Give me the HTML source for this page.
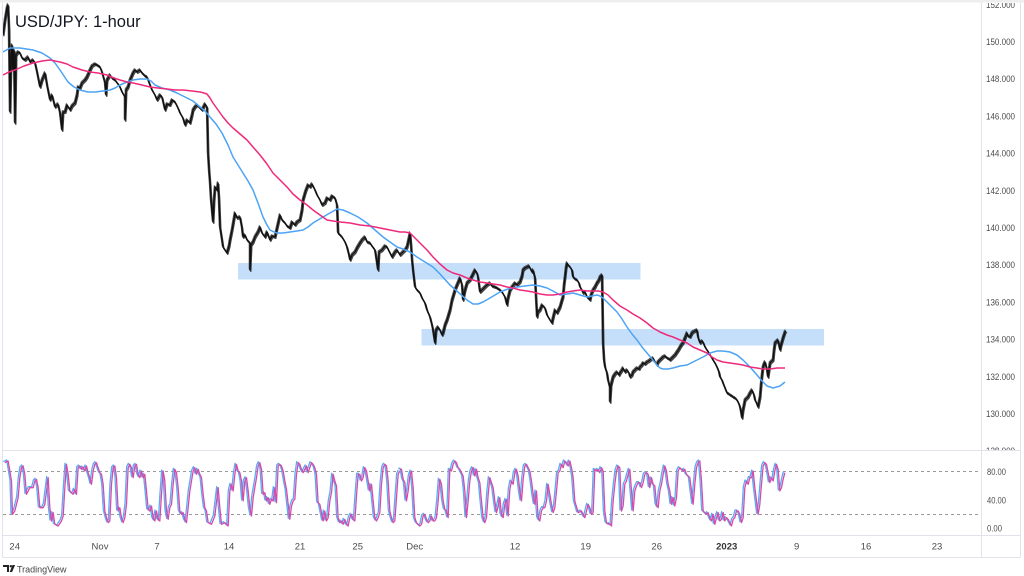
<!DOCTYPE html>
<html><head><meta charset="utf-8"><style>
html,body{margin:0;padding:0;background:#fff;}
svg{display:block;}
text{font-family:"Liberation Sans",sans-serif;}
</style></head><body>
<svg width="1024" height="576" viewBox="0 0 1024 576" xmlns="http://www.w3.org/2000/svg" xmlns:xlink="http://www.w3.org/1999/xlink">
<defs>
<clipPath id="pc"><rect x="3" y="3" width="978" height="447"/></clipPath>
<clipPath id="ac"><rect x="982" y="3" width="38" height="447"/></clipPath>
<clipPath id="oc"><rect x="3" y="451" width="978" height="84"/></clipPath>
</defs>
<rect x="0" y="0" width="1024" height="576" fill="#fff"/>
<rect x="0" y="0" width="1024" height="2.5" fill="#eeeeee"/>
<!-- frame -->
<g stroke="#e0e3eb" stroke-width="1" fill="none">
<line x1="2.5" y1="2.5" x2="2.5" y2="557.5"/>
<line x1="1020.5" y1="2.5" x2="1020.5" y2="557.5"/>
<line x1="981.5" y1="2.5" x2="981.5" y2="557.5"/>
<line x1="2.5" y1="450.5" x2="1020.5" y2="450.5"/>
<line x1="2.5" y1="535.5" x2="1020.5" y2="535.5"/>
<line x1="2.5" y1="557.5" x2="1020.5" y2="557.5"/>
</g>
<g clip-path="url(#pc)">
<!-- zones -->
<rect x="238" y="263" width="402.5" height="16.5" fill="#c5dffa"/>
<rect x="421.5" y="329" width="402.5" height="16.5" fill="#c5dffa"/>
<!-- price -->
<polyline id="pr" fill="none" stroke="#111" stroke-width="1.4" stroke-linejoin="round" points="3,35 5,20 7,8 8,5 9,30 10,112 11,60 12,45 13,70 14,50 15,123 16,55 18,52 20,53 22,58 25,60 28,57 30,62 33,60 35,63 37,72 40,87 42,80 45,73 47,85 50,100 52,95 55,107 58,104 60,113 62,130 63,112 65,112 67,105 70,110 72,106 75,103 77,95 78,87 80,88 82,83 85,80 87,77 90,70 92,66 95,64 97,65 100,67 102,72 105,83 106,95 107,80 110,75 112,78 115,80 118,84 120,87 122,92 125,97 125,120 126,90 128,87 130,80 133,73 135,70 137,72 140,70 142,73 145,76 147,77 150,85 152,90 155,95 157,100 160,95 162,97 165,110 167,104 170,105 172,100 175,102 178,108 180,113 183,118 185,125 187,120 190,123 192,115 193,110 195,107 197,105 200,108 202,110 205,104 207,107 208,153 209,170 210,183 211,200 213,222 214,200 215,187 217,190 218,183 219,200 220,227 222,240 223,247 225,250 227,253 229,246 230,240 232,230 235,213 237,218 240,217 242,228 243,237 245,235 247,240 250,243 250,270 251,245 253,242 255,237 258,232 260,227 262,233 265,237 267,232 270,240 272,236 275,237 277,228 280,215 282,220 285,223 287,226 290,228 292,222 295,225 297,222 300,220 302,210 303,200 305,193 306,190 308,185 310,187 312,184 315,190 317,195 320,200 322,205 325,203 327,198 330,200 332,196 335,198 337,205 338,233 340,235 342,237 345,242 347,247 349,255 350,260 352,255 355,252 357,248 360,243 362,240 365,237 367,242 370,243 372,246 375,250 378,270 379,252 382,250 385,246 387,247 390,253 392,257 395,252 397,250 400,255 402,253 405,250 407,247 409,238 410,233 411,245 412,260 413,270 415,287 417,290 420,293 422,298 425,303 427,310 430,317 432,325 433,330 435,343 436,330 438,327 440,330 442,335 443,333 445,325 447,320 450,310 452,300 455,290 457,285 460,278 462,285 463,300 465,290 467,283 470,280 472,276 475,270 477,273 478,277 480,292 482,290 485,287 487,285 490,283 492,286 495,287 497,288 500,290 502,292 505,297 507,305 508,298 510,290 512,287 515,283 517,285 520,282 522,276 523,270 525,268 527,267 529,266 530,268 532,272 533,270 535,278 537,317 538,312 540,310 542,305 545,308 547,315 550,320 552,323 553,318 555,310 557,313 560,307 562,300 563,297 564,285 565,277 566,268 567,263 568,265 570,267 572,270 573,277 575,279 577,280 579,283 580,287 582,290 583,293 585,292 587,297 590,300 591,295 593,290 595,287 597,283 599,280 600,277 602,275 603,343 604,360 605,367 607,373 608,380 610,388 610,402 611,385 613,377 615,374 617,372 619,375 620,373 622,370 623,368 625,372 627,370 629,373 630,377 632,375 633,372 635,370 637,368 639,369 640,367 642,365 643,363 645,364 647,362 649,361 650,360 652,359 653,358 655,362 657,365 658,362 660,360 662,358 663,357 665,356 667,358 669,359 670,360 672,358 673,357 675,355 677,352 679,349 680,347 682,344 683,343 685,338 687,333 688,336 690,337 692,333 693,332 695,331 697,330 698,337 700,343 702,341 703,342 705,347 707,350 709,353 710,355 712,358 713,360 715,363 717,367 719,372 720,377 722,380 723,383 725,388 727,393 729,394 730,395 732,396 733,397 735,398 737,400 739,404 740,407 741,412 742,418 743,410 745,400 747,398 748,397 750,393 752,390 754,395 755,400 757,404 758,407 759,402 760,397 761,385 762,375 763,367 764,364 765,362 767,370 768,377 769,370 770,363 772,361 773,360 774,350 775,343 777,341 778,340 780,350 781,345 783,338 784,335 785,332 786,331"/>
<use href="#pr" xlink:href="#pr" transform="translate(0.8,1.3)" opacity="0.8"/>
<use href="#pr" xlink:href="#pr" transform="translate(-0.6,-1.1)" opacity="0.7"/>
<!-- blue MA -->
<polyline fill="none" stroke="#4da3f5" stroke-width="1.5" stroke-linejoin="round" points="3,52 10,48 20,48 33,50 42,53 50,58 55,63 60,70 64,76 68,82 74,87 80,90 88,92 95,92 103,91 110,90 115,88 120,85 127,82 133,80 140,79 147,79 151,81 155,85 162,88 170,90 177,93 185,97 193,101 200,107 205,111 210,117 216,124 222,133 228,145 233,157 238,165 243,173 248,181 253,190 258,203 263,217 267,225 270,230 274,232 277,233 283,233 290,232 297,231 303,230 308,227 313,223 318,220 323,217 330,213 337,209 343,210 350,213 358,217 367,223 375,230 383,237 390,242 397,247 403,249 410,252 417,257 425,262 433,267 440,274 450,285 458,292 467,300 473,304 478,304 483,302 490,298 500,292 508,289 517,287 525,286 533,285 540,286 547,288 553,291 560,295 567,294 573,293 580,295 587,297 592,296 597,295 600,296 603,298 607,302 612,307 617,312 622,319 627,327 632,334 637,340 642,347 647,353 652,359 657,365 660,368 663,369 668,369 673,368 680,366 687,365 695,361 703,357 710,353 717,351 723,351 730,352 737,355 743,360 750,367 757,375 762,381 767,386 773,388 780,386 785,382"/>
<!-- pink MA -->
<polyline fill="none" stroke="#ee2a7b" stroke-width="1.5" stroke-linejoin="round" points="3,75 9,72 15,70 24,66 33,63 42,61 50,60 55,61 60,62 67,64 73,67 82,70 90,72 98,73 107,75 114,78 120,80 127,82 133,83 142,85 150,87 158,88 167,89 175,90 183,90 192,91 200,92 204,93 207,94 210,98 213,103 218,110 223,117 228,123 233,128 240,134 247,140 253,147 260,155 267,164 273,173 280,180 287,187 293,194 300,200 307,205 313,210 320,215 327,220 333,221 340,222 350,223 360,225 370,226 380,228 390,230 400,232 405,232 410,233 415,238 420,243 427,250 433,257 440,264 447,270 453,273 460,275 467,278 473,280 480,282 487,283 493,284 500,285 507,287 513,288 520,290 527,291 533,292 540,294 547,295 553,295 560,294 567,292 573,291 580,290 587,291 593,291 598,291 603,292 608,295 613,300 620,306 627,310 633,314 640,318 647,323 653,328 660,332 667,335 673,337 680,340 687,343 693,347 700,350 707,353 712,357 717,360 723,362 730,363 737,364 743,365 750,367 757,368 763,369 770,369 777,368 785,368"/>
</g>
<!-- title -->
<text x="15" y="27" font-size="16.5" fill="#131722">USD/JPY: 1-hour</text>
<!-- price axis labels -->
<g clip-path="url(#ac)" font-size="9.5" fill="#4c4c4c">
<text x="986" y="7.8" textLength="29" lengthAdjust="spacingAndGlyphs">152.000</text>
<text x="986" y="45" textLength="29" lengthAdjust="spacingAndGlyphs">150.000</text>
<text x="986" y="82.2" textLength="29" lengthAdjust="spacingAndGlyphs">148.000</text>
<text x="986" y="119.4" textLength="29" lengthAdjust="spacingAndGlyphs">146.000</text>
<text x="986" y="156.6" textLength="29" lengthAdjust="spacingAndGlyphs">144.000</text>
<text x="986" y="193.8" textLength="29" lengthAdjust="spacingAndGlyphs">142.000</text>
<text x="986" y="231" textLength="29" lengthAdjust="spacingAndGlyphs">140.000</text>
<text x="986" y="268.2" textLength="29" lengthAdjust="spacingAndGlyphs">138.000</text>
<text x="986" y="305.4" textLength="29" lengthAdjust="spacingAndGlyphs">136.000</text>
<text x="986" y="342.6" textLength="29" lengthAdjust="spacingAndGlyphs">134.000</text>
<text x="986" y="379.8" textLength="29" lengthAdjust="spacingAndGlyphs">132.000</text>
<text x="986" y="417" textLength="29" lengthAdjust="spacingAndGlyphs">130.000</text>
<text x="986" y="454.2" textLength="29" lengthAdjust="spacingAndGlyphs">128.000</text>
</g>
<!-- oscillator -->
<g stroke="#9a9a9a" stroke-width="1" stroke-dasharray="3,3">
<line x1="3" y1="471.5" x2="981" y2="471.5"/>
<line x1="3" y1="514.5" x2="981" y2="514.5"/>
</g>
<g clip-path="url(#oc)">
<g transform="translate(0,440) scale(0.33333)">
<polyline id="o1" fill="none" stroke="#5aaaf5" stroke-width="1.3" vector-effect="non-scaling-stroke" stroke-linejoin="round" points="10,65 20,60 30,120 33,220 40,210 50,170 55,110 60,80 65,75 70,100 75,160 85,140 95,140 100,120 105,115 110,140 115,200 125,200 130,190 140,110 145,200 150,240 155,215 160,250 170,255 180,240 185,225 190,140 195,70 200,100 205,150 215,160 220,145 225,160 230,80 235,75 240,85 245,78 250,90 255,75 260,95 265,110 270,130 275,90 280,70 285,65 290,80 295,95 300,100 305,130 310,210 315,230 320,245 325,240 330,130 335,80 340,75 345,110 350,210 355,200 360,230 365,245 370,230 375,190 380,80 385,70 390,80 395,110 400,75 405,70 410,100 415,110 420,90 425,110 430,100 435,150 440,205 445,210 450,195 455,230 460,240 465,210 470,235 475,240 480,160 485,90 490,120 495,210 500,235 505,200 510,190 515,130 520,85 525,95 530,140 535,210 540,220 545,215 550,235 555,245 560,200 565,150 570,120 575,90 580,80 585,100 590,85 595,100 600,110 605,160 610,200 615,210 620,245 630,250 640,225 650,140 655,200 660,250 670,245 680,255 685,150 690,130 695,150 700,100 705,70 710,90 715,95 720,120 725,180 730,120 735,110 740,150 745,200 750,225 755,170 760,140 765,110 770,75 775,65 780,85 785,160 790,155 795,180 800,170 805,190 810,175 815,180 820,140 825,185 830,75 835,70 840,75 845,90 850,120 855,145 860,190 865,235 870,195 875,180 880,175 885,100 890,65 895,70 900,85 905,95 910,85 915,75 920,95 925,80 930,65 935,70 940,80 945,100 950,185 955,190 960,215 965,240 970,210 975,240 980,230 985,180 990,155 995,100 1000,120 1005,135 1010,230 1015,245 1020,240 1025,250 1030,235 1035,250 1040,255 1045,230 1050,220 1055,235 1060,240 1065,165 1070,100 1075,100 1080,120 1085,110 1090,80 1095,90 1100,120 1105,150 1110,130 1115,180 1120,230 1125,240 1130,230 1135,215 1140,130 1145,80 1150,70 1155,75 1160,120 1165,210 1170,230 1175,245 1180,240 1185,170 1190,100 1195,90"/>
</g>
<g transform="translate(1.5,441) scale(0.33333)">
<polyline fill="none" stroke="#d94aa8" stroke-width="1.3" vector-effect="non-scaling-stroke" stroke-linejoin="round" points="10,65 20,60 30,120 33,220 40,210 50,170 55,110 60,80 65,75 70,100 75,160 85,140 95,140 100,120 105,115 110,140 115,200 125,200 130,190 140,110 145,200 150,240 155,215 160,250 170,255 180,240 185,225 190,140 195,70 200,100 205,150 215,160 220,145 225,160 230,80 235,75 240,85 245,78 250,90 255,75 260,95 265,110 270,130 275,90 280,70 285,65 290,80 295,95 300,100 305,130 310,210 315,230 320,245 325,240 330,130 335,80 340,75 345,110 350,210 355,200 360,230 365,245 370,230 375,190 380,80 385,70 390,80 395,110 400,75 405,70 410,100 415,110 420,90 425,110 430,100 435,150 440,205 445,210 450,195 455,230 460,240 465,210 470,235 475,240 480,160 485,90 490,120 495,210 500,235 505,200 510,190 515,130 520,85 525,95 530,140 535,210 540,220 545,215 550,235 555,245 560,200 565,150 570,120 575,90 580,80 585,100 590,85 595,100 600,110 605,160 610,200 615,210 620,245 630,250 640,225 650,140 655,200 660,250 670,245 680,255 685,150 690,130 695,150 700,100 705,70 710,90 715,95 720,120 725,180 730,120 735,110 740,150 745,200 750,225 755,170 760,140 765,110 770,75 775,65 780,85 785,160 790,155 795,180 800,170 805,190 810,175 815,180 820,140 825,185 830,75 835,70 840,75 845,90 850,120 855,145 860,190 865,235 870,195 875,180 880,175 885,100 890,65 895,70 900,85 905,95 910,85 915,75 920,95 925,80 930,65 935,70 940,80 945,100 950,185 955,190 960,215 965,240 970,210 975,240 980,230 985,180 990,155 995,100 1000,120 1005,135 1010,230 1015,245 1020,240 1025,250 1030,235 1035,250 1040,255 1045,230 1050,220 1055,235 1060,240 1065,165 1070,100 1075,100 1080,120 1085,110 1090,80 1095,90 1100,120 1105,150 1110,130 1115,180 1120,230 1125,240 1130,230 1135,215 1140,130 1145,80 1150,70 1155,75 1160,120 1165,210 1170,230 1175,245 1180,240 1185,170 1190,100 1195,90"/>
</g>
<g transform="translate(380,450) scale(0.33333)">
<polyline fill="none" stroke="#5aaaf5" stroke-width="1.3" vector-effect="non-scaling-stroke" stroke-linejoin="round" points="55,55 60,55 65,85 70,95 75,150 80,120 85,75 90,60 95,110 100,200 105,215 110,220 115,225 120,220 125,195 130,190 135,205 140,215 145,210 150,195 155,210 160,210 165,200 170,150 175,85 180,100 185,150 190,175 195,180 200,200 205,55 210,60 215,40 220,30 225,35 230,50 235,55 240,65 245,75 250,120 255,200 260,150 265,90 270,60 275,50 280,75 285,55 290,80 295,95 300,150 305,200 310,215 315,200 320,130 325,80 330,95 335,110 340,150 345,185 350,165 355,140 360,190 365,200 370,160 375,145 380,195 385,115 390,90 395,100 400,65 405,55 410,75 415,120 420,150 425,85 430,45 435,40 440,50 445,60 450,90 455,130 460,160 465,120 470,200 475,210 480,180 485,170 490,170 495,150 500,100 505,130 510,160 515,185 520,170 525,120 530,65 535,60 540,40 545,50 550,30 555,35 560,45 565,30 570,50 575,80 580,150 590,185 600,180 610,200 615,180 620,160 625,170 630,190 635,185 640,55 645,60 650,55 655,65 660,50 665,60 670,180 675,215 680,220 685,218 690,225 695,150 700,100 705,60 710,45 715,50 720,180 725,165 730,100 735,90 740,70 745,55 750,120 755,180 760,120 765,105 770,95 775,95 780,110 785,95 790,70 795,65 800,70 805,110 810,80 815,100 820,105 825,160 830,170 835,120 840,100 845,70 850,45 855,60 860,100 865,120 870,160 875,140 880,165 885,140 890,60 895,50 900,55 905,60 910,55 915,70 920,75 925,80 930,120 935,160 940,100 945,50 950,35 955,30 960,90 965,180 970,185 975,190 980,185 985,200 990,210 995,190 1000,220 1005,200 1010,185 1015,210 1020,205 1025,185 1030,210 1035,200 1040,205 1045,215 1050,225 1055,205 1060,200 1065,180 1070,180 1075,190 1080,215 1085,200 1090,110 1095,90 1100,100 1105,80 1110,80 1115,60 1120,110 1125,150 1130,190 1135,160 1140,100 1145,45 1150,35 1155,40 1160,65 1165,95 1170,80 1175,90 1180,60 1185,40 1190,55 1195,120 1200,110 1205,85 1210,65"/>
</g>
<g transform="translate(381.5,451) scale(0.33333)">
<polyline fill="none" stroke="#d94aa8" stroke-width="1.3" vector-effect="non-scaling-stroke" stroke-linejoin="round" points="55,55 60,55 65,85 70,95 75,150 80,120 85,75 90,60 95,110 100,200 105,215 110,220 115,225 120,220 125,195 130,190 135,205 140,215 145,210 150,195 155,210 160,210 165,200 170,150 175,85 180,100 185,150 190,175 195,180 200,200 205,55 210,60 215,40 220,30 225,35 230,50 235,55 240,65 245,75 250,120 255,200 260,150 265,90 270,60 275,50 280,75 285,55 290,80 295,95 300,150 305,200 310,215 315,200 320,130 325,80 330,95 335,110 340,150 345,185 350,165 355,140 360,190 365,200 370,160 375,145 380,195 385,115 390,90 395,100 400,65 405,55 410,75 415,120 420,150 425,85 430,45 435,40 440,50 445,60 450,90 455,130 460,160 465,120 470,200 475,210 480,180 485,170 490,170 495,150 500,100 505,130 510,160 515,185 520,170 525,120 530,65 535,60 540,40 545,50 550,30 555,35 560,45 565,30 570,50 575,80 580,150 590,185 600,180 610,200 615,180 620,160 625,170 630,190 635,185 640,55 645,60 650,55 655,65 660,50 665,60 670,180 675,215 680,220 685,218 690,225 695,150 700,100 705,60 710,45 715,50 720,180 725,165 730,100 735,90 740,70 745,55 750,120 755,180 760,120 765,105 770,95 775,95 780,110 785,95 790,70 795,65 800,70 805,110 810,80 815,100 820,105 825,160 830,170 835,120 840,100 845,70 850,45 855,60 860,100 865,120 870,160 875,140 880,165 885,140 890,60 895,50 900,55 905,60 910,55 915,70 920,75 925,80 930,120 935,160 940,100 945,50 950,35 955,30 960,90 965,180 970,185 975,190 980,185 985,200 990,210 995,190 1000,220 1005,200 1010,185 1015,210 1020,205 1025,185 1030,210 1035,200 1040,205 1045,215 1050,225 1055,205 1060,200 1065,180 1070,180 1075,190 1080,215 1085,200 1090,110 1095,90 1100,100 1105,80 1110,80 1115,60 1120,110 1125,150 1130,190 1135,160 1140,100 1145,45 1150,35 1155,40 1160,65 1165,95 1170,80 1175,90 1180,60 1185,40 1190,55 1195,120 1200,110 1205,85 1210,65"/>
</g>
</g>
<!-- osc labels -->
<g font-size="9.5" fill="#4c4c4c">
<text x="987" y="475" textLength="19" lengthAdjust="spacingAndGlyphs">80.00</text>
<text x="987" y="503.5" textLength="19" lengthAdjust="spacingAndGlyphs">40.00</text>
<text x="987" y="531.5" textLength="15" lengthAdjust="spacingAndGlyphs">0.00</text>
</g>
<!-- time labels -->
<g font-size="9.5" fill="#4c4c4c" text-anchor="middle">
<text x="14.7" y="549.5">24</text>
<text x="100" y="549.5">Nov</text>
<text x="157" y="549.5">7</text>
<text x="229" y="549.5">14</text>
<text x="300" y="549.5">21</text>
<text x="357.7" y="549.5">25</text>
<text x="414.7" y="549.5">Dec</text>
<text x="515" y="549.5">12</text>
<text x="585.7" y="549.5">19</text>
<text x="656.7" y="549.5">26</text>
<text x="726.7" y="549.5" font-weight="bold" fill="#333">2023</text>
<text x="796.7" y="549.5">9</text>
<text x="866" y="549.5">16</text>
<text x="937" y="549.5">23</text>
</g>
<!-- TradingView logo -->
<g fill="#222">
<path d="M3,565 h6 v7 h-2 v-5 h-4 z"/>
<circle cx="10.8" cy="566.2" r="1.2"/>
<path d="M12.5,565 h2.6 l-3,7 h-2.4 z"/>
</g>
<text x="17" y="572.5" font-size="9" fill="#444">TradingView</text>
</svg>
</body></html>
